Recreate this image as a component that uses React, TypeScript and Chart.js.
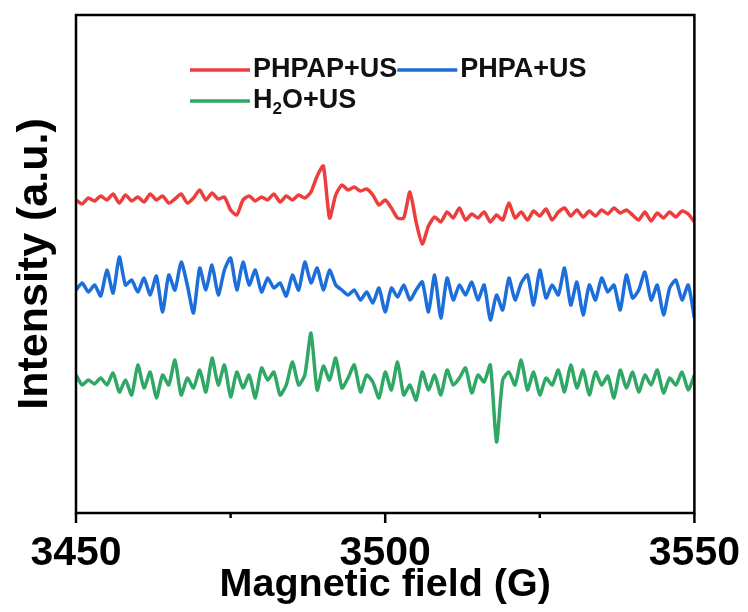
import React, { useEffect, useRef } from "react";
import { Chart, registerables } from "chart.js";

Chart.register(...registerables);

// Magnetic field sampling (G)
const FIELD: number[] = Array.from({ length: 101 }, (_, i) => 3450 + i);

// Intensities (a.u., stacked offsets included)
const PHPAP_US: number[] = [
  313, 309, 315, 312, 317, 313, 319, 310, 318, 312,
  316, 311, 319, 313, 317, 310, 314, 319, 310, 315,
  323, 313, 320, 314, 316, 303, 298, 313, 317, 312,
  316, 313, 319, 311, 317, 313, 318, 315, 321, 337,
  347, 295, 318, 328, 323, 326, 322, 324, 318, 308,
  313, 305, 295, 295, 321, 291, 269, 287, 296, 291,
  301, 295, 305, 293, 299, 295, 301, 291, 298, 293,
  310, 295, 301, 293, 302, 297, 304, 293, 301, 305,
  297, 303, 296, 302, 297, 303, 299, 305, 300, 303,
  298, 293, 301, 292, 300, 295, 301, 296, 302, 299,
  291,
];

const PHPA_US: number[] = [
  223, 230, 221, 228, 217, 243, 220, 256, 228, 233,
  221, 235, 218, 237, 201, 238, 223, 251, 228, 200,
  245, 223, 248, 218, 243, 255, 223, 251, 228, 243,
  221, 235, 225, 230, 217, 238, 223, 251, 230, 245,
  223, 243, 228, 223, 218, 223, 213, 221, 210, 225,
  201, 225, 216, 228, 213, 223, 231, 201, 238, 195,
  235, 213, 228, 218, 231, 213, 228, 193, 218, 203,
  235, 213, 230, 238, 208, 243, 215, 228, 218, 245,
  208, 231, 198, 228, 213, 235, 221, 228, 203, 238,
  215, 223, 241, 213, 228, 198, 225, 233, 213, 228,
  195,
];

const H2O_US: number[] = [
  138, 128, 133, 129, 135, 128, 140, 121, 133, 118,
  148, 125, 141, 115, 138, 128, 153, 118, 135, 125,
  143, 121, 155, 128, 148, 116, 141, 125, 138, 115,
  145, 133, 141, 118, 128, 151, 128, 138, 180, 123,
  147, 133, 155, 125, 135, 148, 121, 138, 131, 115,
  141, 123, 151, 118, 128, 113, 141, 123, 138, 118,
  143, 128, 135, 145, 120, 138, 131, 148, 71, 133,
  141, 128, 153, 123, 141, 118, 135, 128, 143, 121,
  148, 125, 143, 118, 141, 128, 137, 115, 143, 125,
  141, 121, 138, 128, 143, 120, 135, 128, 141, 123,
  138,
];

const SERIES_LABELS = ["PHPAP+US", "PHPA+US", "H2O+US"];
const SERIES_COLORS = ["#EC3E3C", "#1C6EDB", "#2FA865"];
const MAJOR_TICKS = [3450, 3500, 3550];
const MINOR_TICKS = [3475, 3525];

const FONT_FAMILY = '"Liberation Sans", Arial, sans-serif';

const framePlugin = {
  id: "frame",
  afterDraw(chart: any) {
    const { ctx, chartArea } = chart;
    const { left, right, top, bottom } = chartArea;
    const xs = chart.scales.x;
    ctx.save();
    // box
    ctx.strokeStyle = "#000";
    ctx.lineWidth = 2.5;
    ctx.strokeRect(left, top, right - left, bottom - top);
    // ticks (outward)
    MAJOR_TICKS.forEach((v) => {
      const px = xs.getPixelForValue(v);
      ctx.beginPath();
      ctx.moveTo(px, bottom);
      ctx.lineTo(px, bottom + 10);
      ctx.stroke();
    });
    MINOR_TICKS.forEach((v) => {
      const px = xs.getPixelForValue(v);
      ctx.beginPath();
      ctx.moveTo(px, bottom);
      ctx.lineTo(px, bottom + 5);
      ctx.stroke();
    });

    // legend
    const x0 = left + 114;
    const rows = [
      { y: top + 55, items: [0, 1] },
      { y: top + 86, items: [2] },
    ];
    ctx.textBaseline = "middle";
    ctx.textAlign = "left";
    ctx.fillStyle = "#111";
    rows.forEach((row) => {
      let x = x0;
      row.items.forEach((idx) => {
        ctx.strokeStyle = SERIES_COLORS[idx];
        ctx.lineWidth = 3.5;
        ctx.beginPath();
        ctx.moveTo(x, row.y);
        ctx.lineTo(x + 60, row.y);
        ctx.stroke();
        x += 63;
        const label = SERIES_LABELS[idx];
        if (label === "H2O+US") {
          ctx.font = `bold 27px ${FONT_FAMILY}`;
          ctx.fillText("H", x, row.y);
          x += ctx.measureText("H").width;
          ctx.font = `bold 17px ${FONT_FAMILY}`;
          ctx.fillText("2", x, row.y + 8);
          x += ctx.measureText("2").width;
          ctx.font = `bold 27px ${FONT_FAMILY}`;
          ctx.fillText("O+US", x, row.y);
          x += ctx.measureText("O+US").width;
        } else {
          ctx.font = `bold 27px ${FONT_FAMILY}`;
          ctx.fillText(label, x, row.y);
          x += ctx.measureText(label).width;
        }
      });
    });
    ctx.restore();
  },
};

export default function App() {
  const canvasRef = useRef<HTMLCanvasElement | null>(null);

  useEffect(() => {
    if (!canvasRef.current) return;
    const datasets = [PHPAP_US, PHPA_US, H2O_US].map((vals, i) => ({
      label: SERIES_LABELS[i],
      data: FIELD.map((f, j) => ({ x: f, y: vals[j] })),
      borderColor: SERIES_COLORS[i],
      backgroundColor: SERIES_COLORS[i],
      borderWidth: 3.5,
      pointRadius: 0,
      tension: 0.2,
      fill: false,
    }));

    const chart = new Chart(canvasRef.current, {
      type: "line",
      data: { datasets },
      plugins: [framePlugin],
      options: {
        animation: false,
        responsive: true,
        maintainAspectRatio: false,
        devicePixelRatio: 1,
        layout: { padding: { top: 15, right: 53, left: 0, bottom: 0 } },
        plugins: {
          legend: { display: false },
          tooltip: { enabled: false },
        },
        scales: {
          x: {
            type: "linear",
            min: 3450,
            max: 3550,
            grid: { display: false },
            border: { display: false },
            ticks: {
              stepSize: 50,
              color: "#000",
              padding: 8,
              maxRotation: 0,
              font: { family: FONT_FAMILY, size: 41, weight: "bold" },
              callback: (v: any) => String(v),
            },
            title: {
              display: true,
              text: "Magnetic field (G)",
              color: "#000",
              padding: { top: 3, bottom: 3 },
              font: { family: FONT_FAMILY, size: 39.5, weight: "bold" },
            },
            afterFit: (scale: any) => {
              scale.height = 99;
            },
          },
          y: {
            type: "linear",
            min: 0,
            max: 498,
            grid: { display: false },
            border: { display: false },
            ticks: { display: false },
            title: {
              display: true,
              text: "Intensity (a.u.)",
              color: "#000",
              padding: { top: 9, bottom: 0 },
              font: { family: FONT_FAMILY, size: 43, weight: "bold" },
            },
            afterFit: (scale: any) => {
              scale.width = 76;
            },
          },
        },
      },
    });
    return () => chart.destroy();
  }, []);

  return (
    <div style={{ position: "fixed", left: 0, top: 0, width: 748, height: 612, background: "#fff" }}>
      <canvas ref={canvasRef} />
    </div>
  );
}
